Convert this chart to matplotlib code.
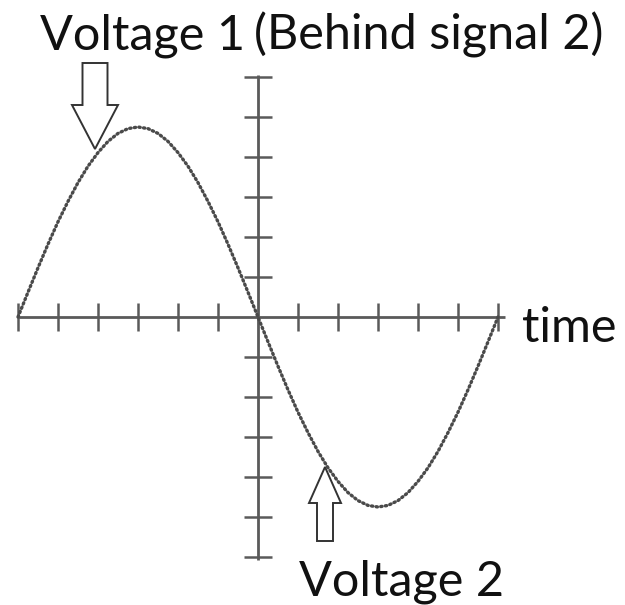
import numpy as np
import matplotlib
matplotlib.use("Agg")
import matplotlib.pyplot as plt
from matplotlib.patches import FancyArrow

# time axis (one tick per unit) and voltage values, every quarter unit
time = [-6, -5.75, -5.5, -5.25, -5, -4.75, -4.5, -4.25, -4, -3.75, -3.5, -3.25, -3,
        -2.75, -2.5, -2.25, -2, -1.75, -1.5, -1.25, -1, -0.75, -0.5, -0.25, 0,
        0.25, 0.5, 0.75, 1, 1.25, 1.5, 1.75, 2, 2.25, 2.5, 2.75, 3,
        3.25, 3.5, 3.75, 4, 4.25, 4.5, 4.75, 5, 5.25, 5.5, 5.75, 6]
voltage = [0, 0.62, 1.23, 1.82, 2.38, 2.89, 3.36, 3.77, 4.11, 4.39, 4.59, 4.71, 4.75,
           4.71, 4.59, 4.39, 4.11, 3.77, 3.36, 2.89, 2.38, 1.82, 1.23, 0.62, 0,
           -0.62, -1.23, -1.82, -2.38, -2.89, -3.36, -3.77, -4.11, -4.39, -4.59, -4.71, -4.75,
           -4.71, -4.59, -4.39, -4.11, -3.77, -3.36, -2.89, -2.38, -1.82, -1.23, -0.62, 0]
time_ticks = [-6, -5, -4, -3, -2, -1, 1, 2, 3, 4, 5, 6]
volt_ticks = [-6, -5, -4, -3, -2, -1, 1, 2, 3, 4, 5, 6]

plt.rcParams['font.family'] = ['Lato', 'DejaVu Sans']

fig = plt.figure(figsize=(6.25, 6.05), dpi=100)
ax = fig.add_axes([0, 0, 1, 1])
ax.set_xlim(-6.45, 9.175)
ax.set_ylim(-7.2, 7.925)
ax.axis('off')

axis_col = '#5a5a5a'
# axes lines
ax.plot([-6, 6.18], [0, 0], color=axis_col, lw=2, solid_capstyle='butt')
ax.plot([0, 0], [-6.08, 6.05], color=axis_col, lw=2, solid_capstyle='butt')
# tick marks
tl = 0.36
ax.vlines(time_ticks, -tl, tl, color=axis_col, lw=1.8)
ax.hlines(volt_ticks, -tl, tl, color=axis_col, lw=1.8)

# the signal (dotted)
ax.plot(time, voltage, color='#4a4a4a', lw=2.4, linestyle=(0, (0.4, 1.0)),
        dash_capstyle='round')

# hollow block arrows
a1 = FancyArrow(-4.075, 6.35, 0, -2.15, width=0.625, head_width=1.15,
                head_length=1.1, length_includes_head=True,
                facecolor='white', edgecolor='#333333', lw=1.4)
a2 = FancyArrow(1.675, -5.6, 0, 1.85, width=0.4, head_width=0.8,
                head_length=0.9, length_includes_head=True,
                facecolor='white', edgecolor='#333333', lw=1.4)
ax.add_patch(a1)
ax.add_patch(a2)

fs = 35
ax.text(-5.45, 6.675, 'Voltage 1', fontsize=fs, color='#111111',
        ha='left', va='baseline')
ax.text(-0.1, 6.675, '(Behind signal 2)', fontsize=fs, color='#111111',
        ha='left', va='baseline')
ax.text(6.6, -0.625, 'time', fontsize=fs, color='#111111',
        ha='left', va='baseline')
ax.text(1.02, -6.95, 'Voltage 2', fontsize=fs, color='#111111',
        ha='left', va='baseline')

fig.savefig('out.png', dpi=100)
